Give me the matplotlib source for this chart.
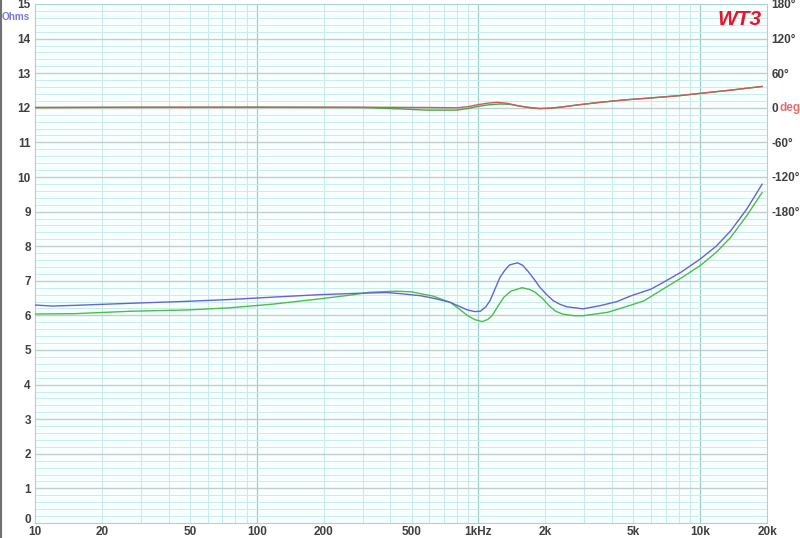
import numpy as np
import matplotlib.pyplot as plt
from matplotlib.lines import Line2D
from matplotlib.transforms import ScaledTranslation

# impedance magnitude, blue trace (Hz, ohm)
freq_blue = [10, 12, 15, 27, 50, 76, 120, 193, 290, 386, 443, 546, 622, 744, 820, 890,
             960, 1020, 1080, 1128, 1190, 1250, 1320, 1383, 1500, 1580, 1665, 1780, 1893,
             2030, 2170, 2330, 2500, 2960, 3530, 4210, 4890, 6000, 6790, 8200, 10000,
             11800, 13700, 16200, 19000]
ohm_blue = [6.30, 6.27, 6.29, 6.35, 6.41, 6.46, 6.53, 6.60, 6.64, 6.66, 6.63, 6.57, 6.50,
            6.38, 6.26, 6.16, 6.11, 6.12, 6.25, 6.43, 6.78, 7.10, 7.32, 7.46, 7.52, 7.45,
            7.29, 7.05, 6.81, 6.60, 6.43, 6.32, 6.25, 6.19, 6.28, 6.40, 6.57, 6.76, 6.95,
            7.25, 7.63, 8.00, 8.44, 9.07, 9.79]

# impedance magnitude, green trace (Hz, ohm)
freq_green = [10, 15, 27, 50, 76, 120, 193, 260, 324, 429, 500, 546, 622, 744, 820, 890,
              960, 1038, 1100, 1150, 1220, 1300, 1400, 1573, 1700, 1800, 1950, 2080, 2230,
              2390, 2700, 2960, 3830, 4890, 5570, 6790, 8200, 10000, 11800, 13700, 16200,
              19000]
ohm_green = [6.04, 6.05, 6.12, 6.16, 6.22, 6.33, 6.48, 6.58, 6.67, 6.70, 6.68, 6.63, 6.56,
             6.38, 6.18, 6.00, 5.88, 5.82, 5.88, 5.99, 6.25, 6.52, 6.70, 6.80, 6.75, 6.67,
             6.48, 6.28, 6.12, 6.04, 5.99, 5.99, 6.09, 6.30, 6.42, 6.76, 7.08, 7.44, 7.82,
             8.25, 8.88, 9.55]

# phase traces (Hz, degrees)
freq_ph_red = [10, 27, 100, 300, 600, 801, 900, 980, 1100, 1212, 1340, 1450, 1590, 1750,
               1890, 2100, 2330, 2800, 3540, 4500, 5940, 8000, 10000, 14000, 19000]
deg_red = [0.5, 1, 1, 1, 0.5, 0, 2, 5, 8, 9.5, 8, 5, 2, -0.5, -1.4, -0.5, 1, 5, 9.5, 13.5,
           17, 21, 25, 31, 37]

freq_ph_green = [10, 100, 300, 450, 580, 800, 900, 980, 1100, 1250, 1383, 1500, 1665, 1890,
                 2100, 2330, 2800, 3540, 4500, 5940, 8000, 10000, 14000, 19000]
deg_green = [0.5, 1, 0.5, -2, -4, -4, -1, 2, 5, 6.6, 6, 3.5, 1, -1.2, -0.8, 1, 5, 9.5, 13.5,
             17, 21, 25, 31, 37]

x_ticks = [10, 20, 50, 100, 200, 500, 1000, 2000, 5000, 10000, 20000]
x_labels = ['10', '20', '50', '100', '200', '500', '1kHz', '2k', '5k', '10k', '20k']
deg_ticks = [-180, -120, -60, 0, 60, 120, 180]
deg_labels = ['-180°', '-120°', '-60°', '0', '60°', '120°', '180°']

plt.rcParams['font.family'] = ['Liberation Sans', 'DejaVu Sans']
label_col = '#404040'

fig = plt.figure(figsize=(8, 5.38), dpi=100)
ax = fig.add_axes([35 / 800, 15 / 538, 732 / 800, 519 / 538])
ax.set_facecolor('#f8ffff')

ax.set_xscale('log')
ax.set_xlim(10, 20000)
ax.set_ylim(0, 15)

# grid: minor then major
for dec in [10, 100, 1000, 10000]:
    for m in range(2, 10):
        f = dec * m
        if f < 20000:
            ax.axvline(f, color='#c8eaea', lw=0.8, zorder=0)
for f in [100, 1000, 10000]:
    ax.axvline(f, color='#9ccece', lw=0.9, zorder=0)
for y in np.arange(0, 15, 0.2):
    ax.axhline(y, color='#c8ecec', lw=0.7, zorder=0)
for y in range(1, 15):
    ax.axhline(y, color='#c4cccc', lw=1.0, zorder=0)

ax.plot(freq_green, ohm_green, color='#4cbc4c', lw=1.0, zorder=3)
ax.plot(freq_blue, ohm_blue, color='#6464d4', lw=1.0, zorder=3)

ax.set_xticks(x_ticks)
ax.set_xticklabels(x_labels)
ax.xaxis.set_minor_locator(plt.NullLocator())
ax.set_yticks(range(0, 16))
ax.tick_params(axis='both', length=0, labelsize=8.5, labelcolor=label_col, pad=3)
for t in ax.get_xticklabels() + ax.get_yticklabels():
    t.set_fontweight('bold')
ax.tick_params(axis='x', pad=2.5)

# lift the "0" label a little so it clears the "10" below it
zero_lbl = ax.yaxis.get_major_ticks()[0].label1
zero_lbl.set_transform(zero_lbl.get_transform() + ScaledTranslation(0, 3 / 72, fig.dpi_scale_trans))

for s in ax.spines.values():
    s.set_color('#a8d4d4')
    s.set_linewidth(0.8)

# phase axis
ax2 = ax.twinx()
ax2.set_ylim((0 - 12) * 60, (15 - 12) * 60)
ax2.plot(freq_ph_green, deg_green, color='#48a848', lw=1.0, zorder=3)
ax2.plot(freq_ph_red, deg_red, color='#d05a5a', lw=1.0, zorder=4)
ax2.set_yticks(deg_ticks)
ax2.set_yticklabels(deg_labels)
ax2.tick_params(axis='y', length=0, labelsize=8.5, labelcolor=label_col, pad=3)
for t in ax2.get_yticklabels():
    t.set_fontweight('bold')
for s in ax2.spines.values():
    s.set_visible(False)

ax2.annotate('deg', xy=(1, 0), xycoords=('axes fraction', 'data'), xytext=(9, 0),
             textcoords='offset points', ha='left', va='center', fontsize=8.5,
             fontweight='bold', color='#e07070')

fig.text(2 / 800, 1 - 17 / 538, 'Ohms', ha='left', va='center', fontsize=7.2,
         fontweight='bold', color='#7878d8')
ax.text(0.993, 0.988, 'WT3', transform=ax.transAxes, ha='right', va='top', fontsize=15,
        fontweight='bold', fontstyle='italic', color='#e8142c')

fig.add_artist(Line2D([0.0015, 0.0015], [0, 1], color='#707070', lw=1.5))

fig.savefig('out.png', dpi=100)
